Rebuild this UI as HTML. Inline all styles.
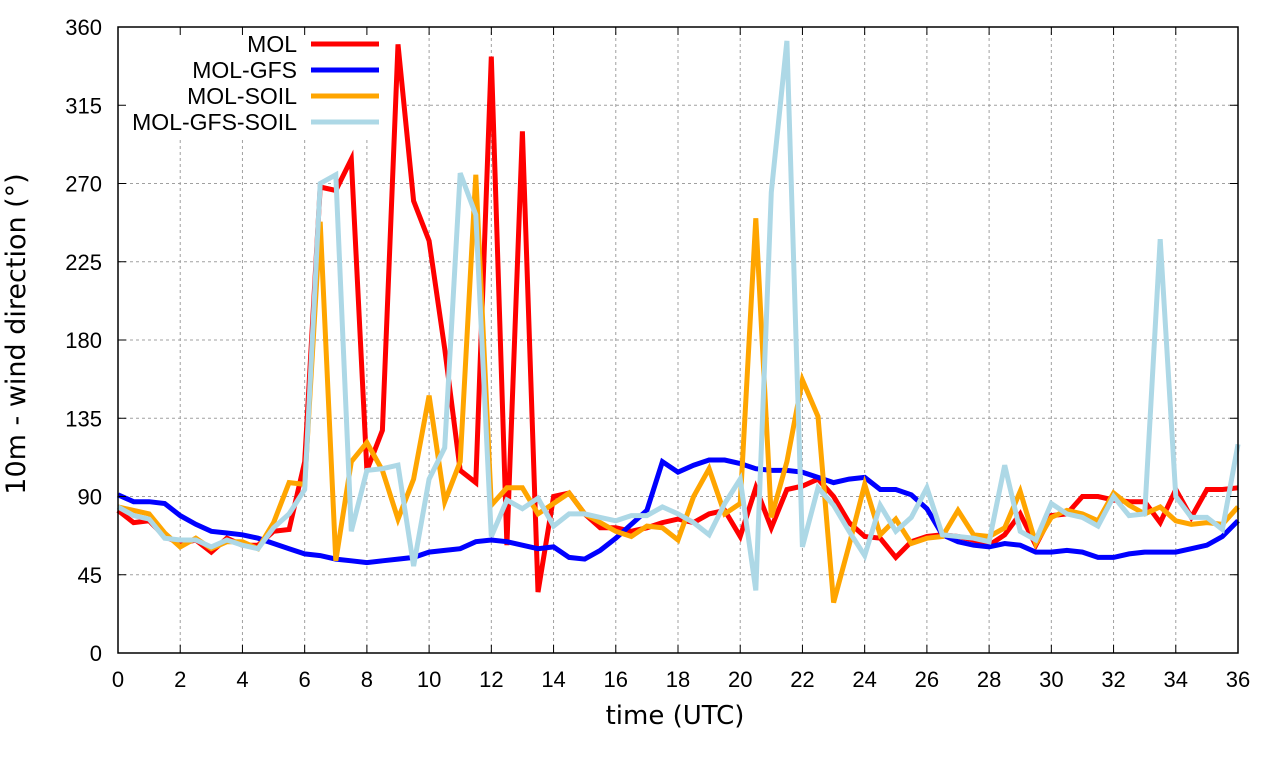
<!DOCTYPE html>
<html><head><meta charset="utf-8"><style>
html,body{margin:0;padding:0;background:#fff;}
svg{display:block;font-family:"Liberation Sans",sans-serif;}
</style></head><body>
<svg id="chart" width="1280" height="760">
<g id="grid"></g>
<rect x="119" y="28" width="288" height="110" fill="#fff"/>
<g id="legend"></g>
<g id="series"></g>
<rect x="118" y="27" width="1120" height="626" fill="none" stroke="#000" stroke-width="1.5"/>
<g id="axes"></g>
<text x="675" y="724" font-size="26" text-anchor="middle" style="font-family:'DejaVu Sans',sans-serif">time (UTC)</text>
<text transform="translate(25,334) rotate(-90)" font-size="27" text-anchor="middle" style="font-family:'DejaVu Sans',sans-serif">10m - wind direction (°)</text>
</svg>
<script>
const xTicks=[0,2,4,6,8,10,12,14,16,18,20,22,24,26,28,30,32,34,36];
const yTicks=[0,45,90,135,180,225,270,315,360];
const seriesNames=["MOL","MOL-GFS","MOL-SOIL","MOL-GFS-SOIL"];
const seriesColors=["#ff0000","#0000ff","#ffa500","#add8e6"];
const mol=[82,75,76,67,63,65,58,66,62,62,70,71,110,268,266,284,105,128,350,260,237,175,105,98,343,62,300,35,90,92,80,72,72,70,72,75,77,75,80,82,67,95,72,94,96,100,90,75,67,66,55,64,67,68,67,65,62,68,80,62,79,80,90,90,88,87,87,75,94,78,94,94,95];
const molGfs=[91,87,87,86,79,74,70,69,68,66,63,60,57,56,54,53,52,53,54,55,58,59,60,64,65,64,62,60,61,55,54,59,66,74,82,110,104,108,111,111,109,106,105,105,104,101,98,100,101,94,94,91,83,68,64,62,61,63,62,58,58,59,58,55,55,57,58,58,58,60,62,67,76];
const molSoil=[84,82,80,69,61,66,60,64,64,60,75,98,97,248,53,110,121,105,77,100,148,87,110,275,85,95,95,80,86,92,80,75,70,67,73,72,65,90,106,80,86,250,78,110,157,136,29,62,97,68,77,63,66,67,82,68,67,72,93,63,78,82,80,76,92,85,80,84,76,74,75,74,84];
const molGfsSoil=[84,79,77,66,65,65,61,65,62,60,72,80,94,270,275,70,105,106,108,50,100,118,276,252,67,88,83,89,73,80,80,78,76,79,79,84,80,75,68,86,100,36,265,352,61,95,85,70,56,85,70,78,95,68,67,66,64,108,70,65,86,80,78,73,90,79,80,238,90,78,78,71,120];
const allSeries=[mol,molGfs,molSoil,molGfsSoil];
const X0=118,X1=1238,Y0=653,Y1=27;
const sx=t=>X0+(t/36)*(X1-X0);
const sy=v=>Y0-(v/360)*(Y0-Y1);
const NS="http://www.w3.org/2000/svg";
function mk(tag,attrs,parent){const e=document.createElementNS(NS,tag);for(const k in attrs)e.setAttribute(k,attrs[k]);parent.appendChild(e);return e;}
const grid=document.getElementById('grid'),axes=document.getElementById('axes');
xTicks.forEach(t=>{
  if(t>0&&t<36){const g=mk('line',{x1:sx(t),x2:sx(t),y1:Y0,y2:Y1,stroke:'#a0a0a0','stroke-width':1,'stroke-dasharray':'3,3'},grid);
  
  }
  const tk=mk('line',{x1:sx(t),x2:sx(t),y1:Y0,y2:Y0-8,stroke:'#000','stroke-width':1},axes);
  
  
  const tk2=mk('line',{x1:sx(t),x2:sx(t),y1:Y1,y2:Y1+8,stroke:'#000','stroke-width':1},axes);
  
  
  const l=mk('text',{x:sx(t),y:Y0+34,'font-size':22,'text-anchor':'middle'},axes);
  l.textContent=t;
  
  
});
yTicks.forEach(v=>{
  if(v>0&&v<360){const g=mk('line',{x1:X0,x2:X1,y1:sy(v),y2:sy(v),stroke:'#a0a0a0','stroke-width':1,'stroke-dasharray':'3,3'},grid);
  
  }
  const tk=mk('line',{x1:X0,x2:X0+8,y1:sy(v),y2:sy(v),stroke:'#000','stroke-width':1},axes);
  
  
  const tk2=mk('line',{x1:X1,x2:X1-8,y1:sy(v),y2:sy(v),stroke:'#000','stroke-width':1},axes);
  
  
  const l=mk('text',{x:X0-16,y:sy(v)+8,'font-size':22,'text-anchor':'end'},axes);
  l.textContent=v;
  
  
});
const sg=document.getElementById('series'),lg=document.getElementById('legend');
allSeries.forEach((d,i)=>{
  const pts=d.map((v,j)=>sx(j*0.5).toFixed(1)+','+sy(v).toFixed(1)).join(' ');
  const p=mk('polyline',{points:pts,fill:'none',stroke:seriesColors[i],'stroke-width':5,'stroke-linejoin':'miter'},sg);
  
  
  const ly=44+i*26;
  const t=mk('text',{x:297,y:ly+8,'font-size':23,'text-anchor':'end'},lg);
  t.textContent=seriesNames[i];
  
  
  const ln=mk('line',{x1:311,x2:379,y1:ly,y2:ly,stroke:seriesColors[i],'stroke-width':5},lg);
  
  
});
</script>
</body></html>
